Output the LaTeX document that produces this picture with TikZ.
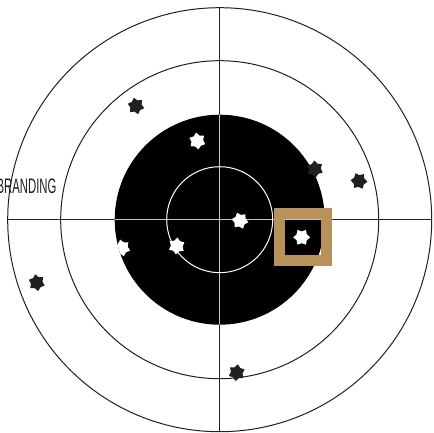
\documentclass[tikz,border=0pt]{standalone}
\usepackage{fontspec}
\setmainfont{Liberation Sans}
\usetikzlibrary{shapes.geometric}
\definecolor{ink}{HTML}{231F20}
\definecolor{gold}{HTML}{B9925A}
\begin{document}
\begin{tikzpicture}[x=1pt,y=-1pt,
  ring/.style={draw=ink,line width=1pt},
  crossin/.style={draw=gray!45,line width=1pt},
  hole/.style={star,star points=6,star point ratio=1.45,minimum size=17pt,inner sep=0pt},
  bhole/.style={hole,fill=ink},
  whole/.style={hole,fill=white}]
\useasboundingbox (0,0) rectangle (433,433);
\clip (0,0) rectangle (433,433);
\coordinate (c) at (219.7,219.7);
\coordinate (top) at (219.7,7.5);
\coordinate (bot) at (219.7,432);
\coordinate (lft) at (8,219.7);
\coordinate (rgt) at (432,219.7);
\draw[ring] (c) circle[radius=212pt];
\draw[ring] (c) circle[radius=159pt];
\draw[ring] (top) -- (bot);
\draw[ring] (lft) -- (rgt);
\fill[black] (c) circle[radius=105pt];
\begin{scope}
  \clip (c) circle[radius=105pt];
  \draw[crossin] (top) -- (bot);
  \draw[crossin] (lft) -- (rgt);
\end{scope}
\draw[white,line width=1pt] (c) circle[radius=53pt];
% white holes (inside the black)
\begin{scope}
  \clip (c) circle[radius=105pt];
  \node[whole,rotate=8] (w1) at (197.3,141) {};
  \node[whole,rotate=20] (w2) at (240,220.7) {};
  \node[whole,rotate=-5] (w3) at (176.7,246) {};
  \node[whole,rotate=12] (w4) at (122,248) {};
  \node[whole,rotate=30] (w5) at (301.7,237.3) {};
\end{scope}
% black holes
\node[bhole,rotate=15] (b1) at (136,106) {};
\node[bhole,rotate=5] (b2) at (315,169) {};
\node[bhole,rotate=25] (b3) at (359,181) {};
\node[bhole,rotate=10] (b4) at (36.7,282.7) {};
\node[bhole,rotate=-8] (b5) at (236.7,372.7) {};
% highlight square
\draw[gold,line width=11pt] (279.8,213.7) rectangle (326.8,260.3);
\node[text=ink,font=\fontsize{21}{22}\selectfont,xscale=0.54,inner sep=0pt] (brand) at (26.5,186) {BRANDING};
\end{tikzpicture}
\end{document}
